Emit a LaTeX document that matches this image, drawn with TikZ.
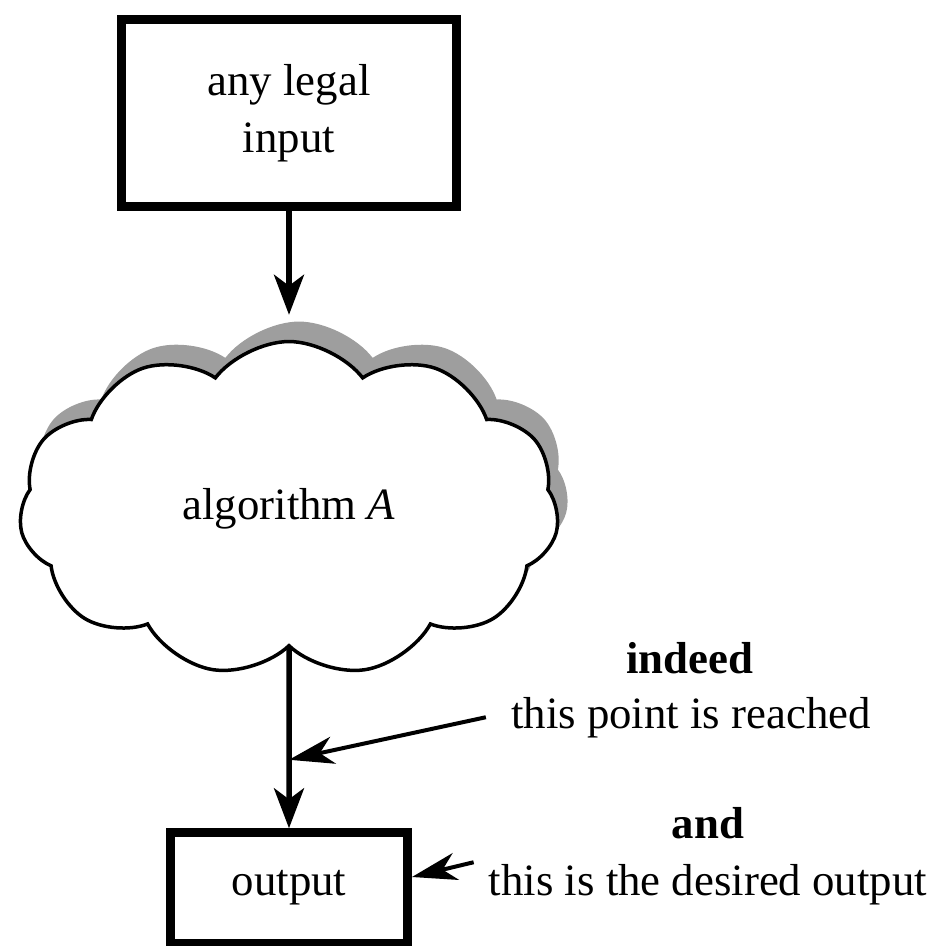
\documentclass[tikz,border=0pt]{standalone}
\usepackage{fontspec}
\setmainfont{Liberation Serif}
\usetikzlibrary{shapes.symbols, shadows, arrows.meta}

\tikzset{
    thickbox/.style = {draw, rectangle, line width = 0.18cm, align = center, fill = white},
    algcloud/.style = {draw, cloud, cloud puffs = 11, cloud puff arc = 105, cloud ignores aspect, line width = 0.07cm, fill = white,
        drop shadow = {shadow xshift = 0.2cm, shadow yshift = 0.4cm, fill = black!38, opacity = 1}},
    flowarrow/.style = {line width = 0.11cm, -{Stealth[length = 0.8cm, width = 0.6cm, inset = 0.22cm]}},
    pointer/.style = {line width = 0.08cm, -{Stealth[length = 0.9cm, width = 0.55cm, inset = 0.27cm]}},
    note/.style = {anchor = base, inner sep = 0.3cm}
}

\begin{document}
\begin{tikzpicture}[x = 0.02cm, y = -0.02cm, font = \fontsize{25.5}{32.4}\selectfont]
    \useasboundingbox (0, 0) rectangle (943, 946);

    \draw
        (289, 113) node[thickbox, minimum width = 6.72cm, minimum height = 3.76cm](input){any legal\\input}
        (289, 509) node[algcloud, minimum width = 10.8cm, minimum height = 6.7cm](cloud){algorithm \textit{A}}
        (289, 888) node[thickbox, minimum width = 4.74cm, minimum height = 2.21cm](output){output}

        (690, 673) node[note](indeed){\textbf{indeed}}
        (691, 728) node[note](reached){this point is reached}
        (708, 838) node[note](and){\textbf{and}}
        (708, 895) node[note](desired){this is the desired output}
    ;

    % flow of the algorithm
    \draw[flowarrow, shorten >= 0.5cm] (input) -- (cloud);
    \draw[flowarrow] (cloud) -- (output);

    % remarks
    \path (cloud.south) -- (output.north) coordinate[pos = 0.62](hit);
    \draw[pointer] ([xshift = -0.2cm]reached.west) -- (hit);
    \draw[pointer] ([yshift = 0.44cm]desired.west) -- ([yshift = 0.22cm]output.east);
\end{tikzpicture}
\end{document}
